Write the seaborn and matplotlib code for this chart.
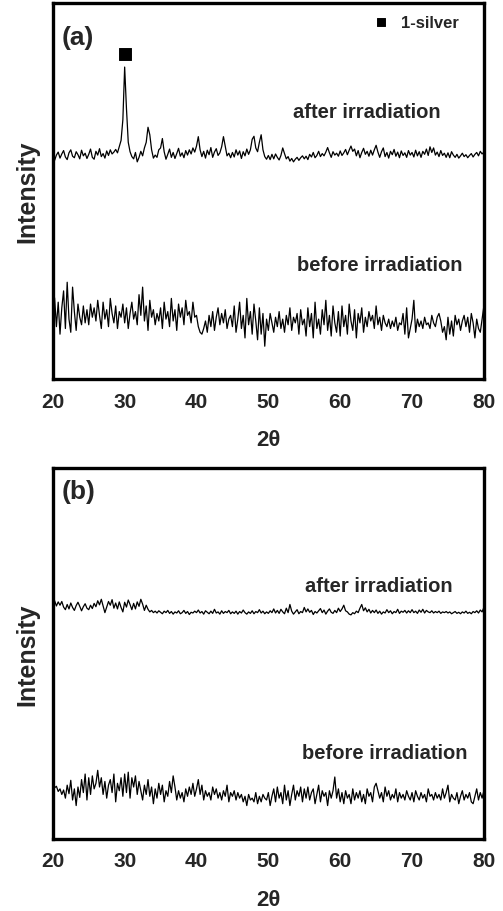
import numpy as np
import pandas as pd
import seaborn as sns
import matplotlib.pyplot as plt
from matplotlib.ticker import MultipleLocator

# 2-theta grid of the scans (0.25 deg step, 20..80)
two_theta = np.arange(20, 80.001, 0.25)

# (a) after irradiation, 5 degrees per row
a_after = [
    59.0, 58.2, 59.6, 60.4, 58.8, 59.9, 60.8, 59.1, 58.4, 60.2, 61.0, 59.3, 58.9, 60.5, 59.7, 58.6, 60.9, 59.4, 60.1, 58.7,
    59.8, 61.2, 59.0, 58.5, 60.6, 59.6, 61.3, 59.2, 60.0, 58.8, 60.7, 59.5, 61.0, 59.9, 60.4, 61.1, 60.2, 61.8, 63.5, 69.0,
    83.0, 72.0, 63.0, 60.5, 59.2, 58.6, 60.3, 57.8, 59.0, 60.6, 59.4, 61.5, 63.0, 67.0, 65.0, 61.0, 58.8, 59.6, 59.0, 61.0,
    61.5, 64.0, 60.5, 58.5, 59.8, 61.2, 59.0, 60.3, 58.7, 60.0, 61.4, 59.3, 60.2, 58.9, 60.8, 59.6, 61.0, 59.9, 61.5, 60.4,
    62.0, 64.5, 61.0, 59.2, 60.6, 58.8, 60.9, 59.7, 61.6, 59.0, 60.4, 61.3, 59.5, 60.2, 61.8, 64.5, 62.0, 59.4, 60.1, 58.9,
    60.3, 59.1, 61.0, 59.6, 60.7, 58.7, 60.5, 59.4, 61.2, 59.8, 61.0, 63.8, 64.6, 61.5, 60.5, 63.0, 65.0, 61.0, 59.2, 58.5,
    59.5, 58.4, 59.8, 58.6, 59.9, 59.0, 58.3, 59.5, 61.5, 60.0, 58.6, 59.2, 58.0, 58.7, 57.8, 58.5, 59.0, 58.2, 58.9, 59.4,
    58.6, 59.3, 58.4, 59.8, 59.1, 60.3, 58.9, 59.5, 60.6, 59.2, 60.0, 59.4, 60.4, 61.6, 60.2, 59.0, 60.5, 59.6, 60.1, 59.3,
    60.7, 59.5, 60.2, 61.1, 59.7, 60.9, 62.0, 60.6, 61.2, 59.4, 60.8, 58.9, 60.3, 61.4, 59.8, 60.6, 59.3, 60.9, 59.6, 61.0,
    62.2, 60.4, 59.0, 60.5, 61.5, 59.2, 60.3, 58.8, 60.6, 59.7, 61.1, 59.3, 60.4, 58.9, 60.7, 59.5, 60.2, 59.0, 60.8, 59.6,
    60.3, 59.1, 60.9, 59.4, 60.5, 59.0, 60.6, 59.8, 61.2, 59.5, 61.8, 60.3, 61.5, 59.6, 60.4, 59.2, 60.8, 59.5, 60.1, 59.0,
    60.2, 58.9, 60.5, 59.6, 59.0, 59.8, 58.8, 59.4, 60.1, 59.2, 59.7, 58.9, 59.5, 60.0, 59.1, 59.8, 60.3, 59.4, 60.6, 59.9,
    60.4,
]

# (a) before irradiation
a_before = [
    24.0, 21.5, 14.0, 20.5, 12.0, 19.0, 23.5, 13.5, 25.8, 16.0, 12.5, 24.5, 18.0, 13.0, 20.0, 16.5, 14.5, 19.5, 15.0, 18.5,
    14.5, 20.0, 16.5, 19.0, 15.5, 21.0, 17.0, 13.5, 20.5, 16.0, 18.5, 14.0, 21.5, 17.5, 15.0, 19.5, 13.5, 18.0, 16.5, 20.0,
    15.0, 19.0, 13.5, 17.5, 20.5, 16.0, 18.0, 14.5, 22.5, 17.0, 24.5, 15.5, 19.5, 13.0, 21.0, 16.5, 18.5, 14.5, 17.5, 15.5,
    19.0, 13.5, 20.5, 16.0, 18.0, 14.0, 21.5, 15.5, 18.5, 13.0, 20.0, 16.5, 19.0, 14.5, 21.0, 17.0, 18.0, 15.0, 20.5, 16.5,
    17.0, 14.0, 12.5, 12.0, 13.5, 15.5, 12.5, 17.0, 14.0, 18.0, 13.0, 16.5, 19.0, 14.5, 17.5, 15.0, 18.5, 13.5, 16.0, 17.0,
    14.0, 19.5, 12.5, 16.0, 20.5, 13.5, 17.0, 11.0, 21.5, 14.5, 18.0, 12.0, 20.0, 15.5, 10.5, 19.0, 12.0, 17.5, 8.8, 16.0,
    13.0, 17.5, 15.0, 12.5, 16.5, 14.0, 18.0, 13.5, 16.0, 12.5, 17.0, 14.5, 19.0, 13.0, 16.5, 15.0, 17.5, 12.0, 18.5, 14.5,
    16.0, 11.5, 19.0, 14.0, 17.5, 11.0, 20.5, 13.5, 16.0, 12.0, 18.5, 14.5, 21.0, 13.0, 17.0, 11.5, 19.5, 15.0, 12.5, 18.0,
    11.5, 19.5, 14.0, 17.0, 12.0, 20.0, 15.5, 13.0, 18.5, 11.0, 17.5, 15.0, 19.0, 12.5, 16.5, 14.0, 18.0, 15.5, 17.0, 13.5,
    19.5, 14.5, 16.5, 13.0, 17.0, 15.0, 14.0, 16.0, 13.5, 15.5, 14.0, 16.5, 13.0, 15.0, 14.5, 17.5, 12.0, 19.0, 11.0, 13.5,
    16.0, 21.0, 12.5, 16.0, 14.0, 15.5, 13.5, 16.5, 14.5, 15.0, 13.5, 17.0, 15.0, 14.0, 16.5, 17.5, 15.5, 12.5, 14.0, 10.5,
    16.5, 12.0, 15.5, 11.5, 17.0, 14.5, 16.0, 13.0, 15.5, 17.0, 14.0, 16.5, 12.5, 17.5, 15.0, 11.0, 16.0, 13.5, 12.5, 16.0,
    19.5,
]

# (b) after irradiation
b_after = [
    63.5, 64.2, 62.8, 63.9, 63.0, 64.0, 62.5, 61.8, 63.2, 62.0, 63.6, 62.4, 61.6, 62.9, 63.8, 62.7, 61.5, 62.6, 63.4, 62.2,
    61.8, 63.0, 62.1, 63.5, 62.6, 64.2, 63.1, 64.6, 62.8, 61.0, 62.5, 64.0, 63.0, 64.5, 62.2, 63.6, 62.0, 63.9, 62.4, 61.2,
    63.8, 62.5, 64.4, 63.2, 61.8, 63.5, 62.0, 63.9, 62.7, 64.6, 63.3, 61.6, 63.0, 61.9, 61.2, 61.6, 61.0, 61.4, 60.9, 61.5,
    61.1, 60.7, 61.4, 61.0, 61.6, 60.8, 61.3, 60.6, 61.2, 60.9, 61.5, 60.7, 61.0, 61.6, 60.8, 61.3, 60.5, 61.1, 60.9, 61.4,
    61.0, 61.7, 60.9, 61.3, 60.6, 61.5, 61.1, 60.7, 61.4, 60.8, 61.9, 60.9, 61.2, 60.6, 61.5, 60.8, 61.3, 61.0, 61.6, 60.7,
    61.2, 60.8, 61.4, 60.6, 61.3, 60.9, 61.7, 61.0, 60.6, 61.2, 60.8, 61.5, 60.7, 61.3, 61.0, 61.8, 60.9, 61.4, 60.7, 61.2,
    60.8, 61.5, 61.0, 62.0, 60.9, 61.6, 60.8, 61.9, 61.2, 60.7, 62.2, 61.0, 63.2, 61.4, 60.6, 61.2, 61.8, 60.7, 61.3, 61.0,
    62.4, 61.2, 62.0, 61.1, 61.6, 60.5, 61.3, 60.9, 61.5, 62.1, 61.0, 61.7, 60.6, 61.4, 62.0, 61.1, 60.8, 61.6, 61.0, 62.2,
    61.3, 62.0, 63.0, 61.5, 61.2, 60.6, 60.4, 61.0, 60.7, 61.4, 61.0, 62.2, 63.2, 61.5, 62.3, 61.2, 61.9, 60.9, 61.6, 61.0,
    61.7, 60.8, 61.4, 60.6, 61.2, 60.9, 61.8, 61.0, 61.5, 60.7, 61.3, 61.0, 61.9, 60.8, 61.4, 61.1, 61.6, 60.9, 61.5, 61.0,
    61.8, 61.0, 61.4, 60.8, 61.7, 61.1, 61.9, 60.9, 61.6, 61.2, 61.0, 61.5, 60.9, 61.3, 61.0, 61.4, 60.8, 61.2, 61.0, 61.3,
    60.9, 61.2, 60.7, 61.0, 61.3, 60.8, 61.1, 60.7, 61.2, 60.9, 61.4, 60.8, 61.1, 60.7, 61.3, 61.0, 61.5, 60.9, 61.7, 61.2,
    62.4,
]

# (b) before irradiation
b_before = [
    15.5, 13.8, 14.2, 12.8, 13.5, 12.0, 13.2, 11.0, 14.5, 12.2, 15.8, 10.5, 13.5, 9.0, 14.0, 11.2, 16.0, 12.5, 17.5, 10.5,
    16.5, 12.0, 17.0, 13.5, 15.0, 18.5, 14.0, 16.5, 12.0, 15.5, 11.0, 14.5, 16.0, 12.5, 17.5, 10.0, 15.0, 13.0, 16.5, 11.5,
    17.5, 12.5, 18.0, 11.0, 16.5, 14.0, 17.0, 12.0, 15.5, 13.0, 10.5, 14.5, 12.0, 16.0, 11.5, 14.0, 9.5, 13.5, 11.0, 15.0,
    12.0, 14.5, 10.0, 13.0, 11.5, 15.5, 12.5, 17.0, 14.0, 10.5, 13.0, 11.0, 12.5, 10.0, 13.5, 11.5, 14.0, 12.0, 15.0, 11.5,
    13.5, 16.0, 12.0, 14.5, 10.5, 13.0, 11.5, 12.5, 10.5, 14.0, 12.0, 13.5, 11.0, 12.5, 10.5, 13.0, 11.5, 14.5, 10.0, 12.5,
    11.5, 13.0, 10.5, 12.5, 11.0, 12.0, 10.0, 11.5, 9.0, 12.0, 10.5, 11.0, 10.0, 12.5, 9.5, 11.5, 10.0, 12.0, 11.0, 10.5,
    12.5, 9.0, 11.5, 13.5, 10.0, 14.0, 11.0, 12.5, 9.5, 14.5, 10.5, 13.0, 9.0, 12.0, 14.5, 10.5, 13.0, 11.5, 14.0, 10.0,
    13.5, 11.0, 14.0, 10.5, 12.5, 13.5, 9.5, 12.0, 14.5, 10.0, 13.0, 11.5, 12.5, 9.0, 13.0, 11.0, 13.0, 16.7, 11.0, 13.5,
    10.0, 12.5, 9.5, 13.0, 11.0, 12.0, 9.5, 13.5, 10.5, 12.5, 11.0, 13.0, 10.0, 12.0, 9.5, 13.5, 11.5, 12.5, 10.0, 14.0,
    15.0, 13.0, 11.0, 12.5, 10.0, 14.0, 11.5, 13.0, 10.5, 12.0, 11.0, 13.5, 10.0, 12.5, 11.0, 12.0, 10.5, 13.0, 11.5, 10.5,
    12.5, 10.0, 13.0, 11.5, 10.5, 12.5, 11.0, 12.0, 10.0, 13.5, 11.5, 12.0, 10.5, 12.5, 11.0, 12.0, 10.5, 13.5, 11.0, 12.5,
    14.5, 10.0, 12.0, 11.0, 10.5, 12.5, 9.5, 11.5, 13.0, 10.5, 12.0, 11.0, 12.5, 10.0, 9.5, 11.5, 13.5, 10.5, 12.5, 11.0,
    13.0,
]

# silver reflection marker
silver_peak = [30.0]
silver_mark = [86.5]

sns.set_style("white")
plt.rcParams['font.family'] = ['Liberation Sans', 'DejaVu Sans']
plt.rcParams['font.weight'] = 'bold'

fig = plt.figure(figsize=(5.03, 9.12), dpi=100)
ax_a = fig.add_axes([0.105, 0.583, 0.857, 0.4125])
ax_b = fig.add_axes([0.105, 0.079, 0.857, 0.4068])

panels = [
    (ax_a, a_after, a_before, '(a)', 91.0, (53.4, 71.3), (54.0, 30.6)),
    (ax_b, b_after, b_before, '(b)', 93.8, (55.1, 68.2), (54.7, 23.2)),
]

for ax, after, before, tag, tag_y, after_pos, before_pos in panels:
    df = pd.DataFrame({'2theta': two_theta, 'after': after, 'before': before})
    sns.lineplot(data=df, x='2theta', y='after', ax=ax, color='black', lw=0.9)
    sns.lineplot(data=df, x='2theta', y='before', ax=ax, color='black', lw=0.9)

    ax.set_xlim(20, 80)
    ax.set_ylim(0, 100)
    ax.set_yticks([])
    ax.xaxis.set_major_locator(MultipleLocator(10))
    ax.xaxis.set_minor_locator(MultipleLocator(5))
    ax.tick_params(axis='x', which='major', direction='in', length=7, width=3,
                   labelsize=15, pad=9, top=False)
    ax.tick_params(axis='x', which='minor', direction='in', length=4, width=3, top=False)
    for lbl in ax.get_xticklabels():
        lbl.set_fontweight('bold')
    for sp in ax.spines.values():
        sp.set_linewidth(2.4)
        sp.set_color('black')

    ax.set_xlabel('2θ', fontsize=16, fontweight='bold', labelpad=13)
    ax.set_ylabel('Intensity', fontsize=18, fontweight='bold', labelpad=10)

    ax.text(21.2, tag_y, tag, fontsize=19, fontweight='bold', va='center', ha='left')
    ax.text(after_pos[0], after_pos[1], 'after irradiation', fontsize=14.5,
            fontweight='bold', va='center', ha='left')
    ax.text(before_pos[0], before_pos[1], 'before irradiation', fontsize=14.5,
            fontweight='bold', va='center', ha='left')

# silver marker + legend in panel (a)
sns.scatterplot(x=silver_peak, y=silver_mark, ax=ax_a, marker='s', s=70,
                color='black', edgecolor='black', label='1-silver', legend=True)
leg = ax_a.legend(loc='upper right', frameon=False, fontsize=12, handletextpad=0.2,
                  borderaxespad=0.3, markerscale=0.75, bbox_to_anchor=(0.97, 1.0))
for t in leg.get_texts():
    t.set_fontweight('bold')

fig.savefig('out.png', dpi=100)
plt.close(fig)
